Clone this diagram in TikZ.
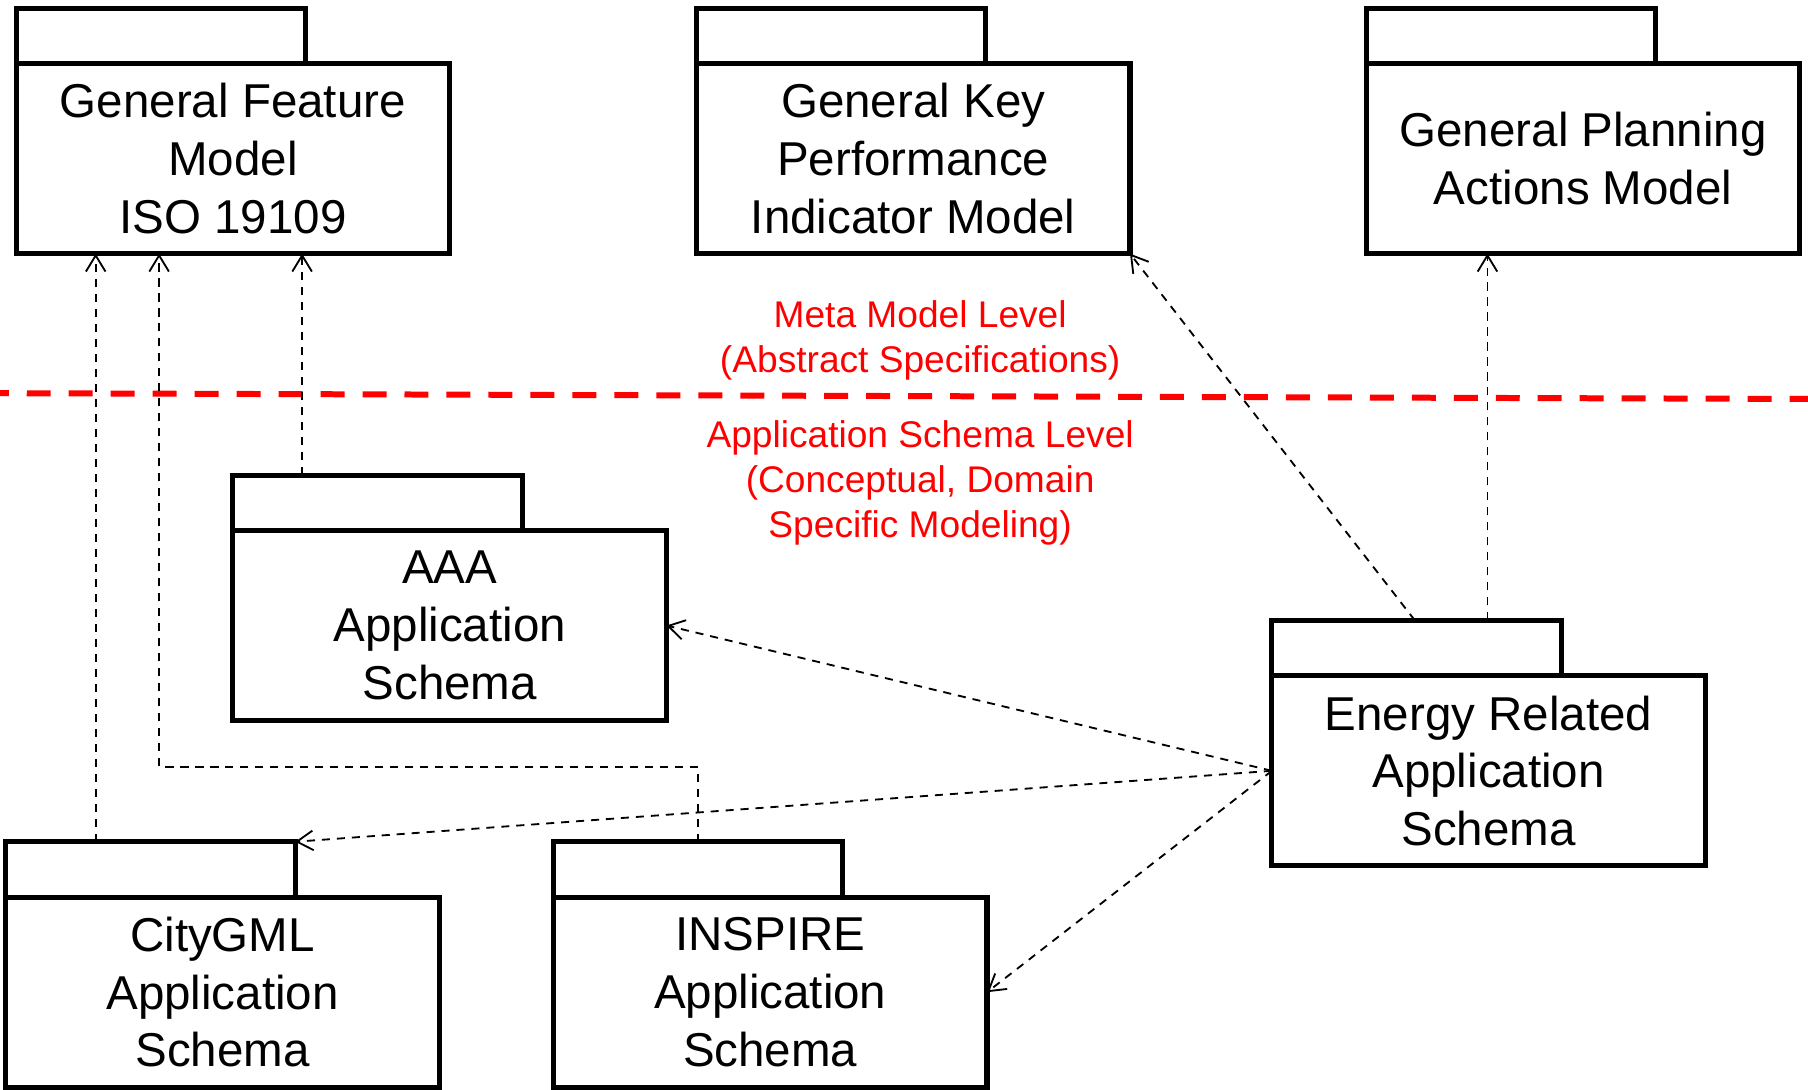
\documentclass[tikz,border=0pt]{standalone}
\usepackage{fontspec}
\setmainfont{Liberation Sans}
\usetikzlibrary{arrows.meta,calc}
\begin{document}
\begin{tikzpicture}[x=0.5pt,y=-0.5pt,
  pkgbody/.style={draw, line width=2.2pt, minimum width=188pt, minimum height=82.5pt,
    inner sep=0pt, outer sep=0pt, anchor=north west, align=center,
    font=\fontsize{20.6pt}{25pt}\selectfont},
  pkgtab/.style={draw, line width=2.2pt, minimum width=125.5pt, minimum height=24pt,
    inner sep=0pt, outer sep=0pt, anchor=south west},
  dep/.style={draw, line width=0.8pt, dash pattern=on 3.5pt off 3pt,
    -{Straight Barb[length=7pt,width=8.5pt]}},
  levelline/.style={draw=red, line width=2.6pt, dash pattern=on 10.4pt off 7.8pt, dash phase=6.6pt},
  leveltext/.style={text=red, align=center, inner sep=0pt, font=\fontsize{16.1pt}{19.5pt}\selectfont}
]
\useasboundingbox (0,0) rectangle (1568,945);

% meta model level packages
\node[pkgbody] (gfm) at (14,55) {General Feature\\Model\\ISO 19109};
\node[pkgtab] (gfmtab) at (gfm.north west) {};
\node[pkgbody] (gkpi) at (604,55) {General Key\\Performance\\Indicator Model};
\node[pkgtab] (gkpitab) at (gkpi.north west) {};
\node[pkgbody] (gpam) at (1185,55) {General Planning\\Actions Model};
\node[pkgtab] (gpamtab) at (gpam.north west) {};

% application schema level packages
\node[pkgbody] (aaa) at (202,460) {AAA\\Application\\Schema};
\node[pkgtab] (aaatab) at (aaa.north west) {};
\node[pkgbody] (eng) at (1103,586) {Energy Related\\Application\\Schema};
\node[pkgtab] (engtab) at (eng.north west) {};
\node[pkgbody] (city) at (5,778) {CityGML\\Application\\Schema};
\node[pkgtab] (citytab) at (city.north west) {};
\node[pkgbody] (ins) at (480,778) {INSPIRE\\Application\\Schema};
\node[pkgtab] (instab) at (ins.north west) {};

% level divider and captions
\coordinate (divl) at (0,341);
\coordinate (divr) at (1568,346);
\draw[levelline] (divl) -- (divr);
\node[leveltext] (metatext) at (798,295.5) {Meta Model Level\\(Abstract Specifications)};
\node[leveltext] (apptext) at (798,419) {Application Schema Level\\(Conceptual, Domain\\Specific Modeling)};

% dependencies
\draw[dep] ([xshift=39pt]citytab.north west) -- ([xshift=39pt]citytab.north west |- gfm.south);
\draw[dep] (instab.north) -- ++(0,-65) -| ([xshift=62pt]gfm.south west);
\draw[dep] ([xshift=30pt]aaatab.north west) -- ([xshift=30pt]aaatab.north west |- gfm.south);
\draw[dep] ([xshift=62pt]engtab.north west) -- (gkpi.south east);
\draw[dep] ([xshift=93.5pt]engtab.north west) -- ([xshift=93.5pt]engtab.north west |- gpam.south);
\draw[dep] (eng.west) -- (aaa.east);
\draw[dep] (eng.west) -- (citytab.north east);
\draw[dep] (eng.west) -- (ins.east);
\end{tikzpicture}
\end{document}
